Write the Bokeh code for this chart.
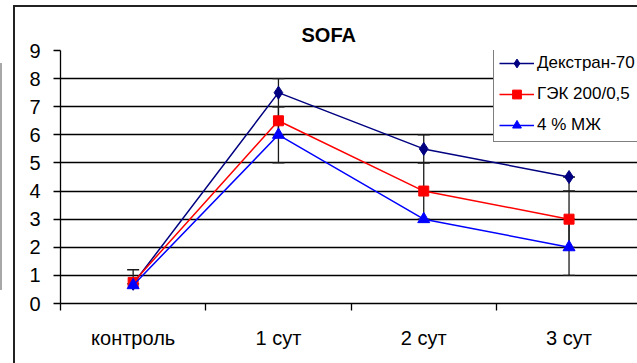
from bokeh.plotting import figure
from bokeh.models import (Range1d, FixedTicker, Whisker, ColumnDataSource, Legend, LegendItem, Title, Div)
from bokeh.layouts import row
from bokeh.embed import file_html
from bokeh.resources import INLINE

categories = ["контроль", "1 сут", "2 сут", "3 сут"]
series_names = ["Декстран-70", "ГЭК 200/0,5", "4 % МЖ"]
dextran = [0.7, 7.5, 5.5, 4.5]
gek = [0.75, 6.5, 4.0, 3.0]
mzh = [0.65, 6.0, 3.0, 2.0]
# error bar extents (lower, upper)
dextran_lo = [0.0, 0.5, 0.5, 0.5]
dextran_hi = [0.5, 0.5, 0.5, 0.0]
gek_lo = [0.0, 0.5, 1.0, 1.0]
gek_hi = [0.0, 0.5, 1.0, 1.0]
mzh_lo = [0.0, 1.0, 0.0, 1.0]
mzh_hi = [0.0, 1.0, 0.0, 1.0]
y_ticks = [0, 1, 2, 3, 4, 5, 6, 7, 8, 9]

colors = ["#000080", "#FF0000", "#0000FF"]
markers = ["diamond", "square", "triangle"]
msizes = [13, 10, 12]

FONT = "Liberation Sans"

p = figure(width=624, height=358, output_backend="svg", toolbar_location=None,
           x_range=Range1d(0, 3.985), y_range=Range1d(0, 9),
           min_border_left=45, min_border_right=0, min_border_top=43, min_border_bottom=62,
           background_fill_color="white", border_fill_color="white",
           outline_line_color=None)
p.margin = (5, 0, 0, 11)
p.styles = {"border-top": "2px solid #222", "border-left": "2px solid #222", "box-sizing": "border-box"}

p.title = Title(text="SOFA", align="left", text_font=FONT, text_font_size="20px",
                text_font_style="bold", text_color="black", offset=241, standoff=10)

xs = [i + 0.5 for i in range(len(categories))]

# axes
p.xaxis.ticker = FixedTicker(ticks=xs, minor_ticks=[0, 1, 2, 3])
p.xaxis.major_label_overrides = {x: c for x, c in zip(xs, categories)}
p.xaxis.major_tick_line_color = None
p.xaxis.minor_tick_in = 0
p.xaxis.minor_tick_out = 7
p.xaxis.minor_tick_line_color = "black"
p.xaxis.minor_tick_line_width = 1.3
p.xaxis.major_label_standoff = 16
p.xaxis.major_label_text_font = FONT
p.xaxis.major_label_text_font_size = "20px"
p.xaxis.major_label_text_color = "black"
p.xaxis.axis_line_color = "black"
p.xaxis.axis_line_width = 1.3

p.yaxis.ticker = FixedTicker(ticks=y_ticks, minor_ticks=[])
p.yaxis.major_tick_in = 0
p.yaxis.major_tick_out = 7
p.yaxis.major_tick_line_color = "black"
p.yaxis.major_tick_line_width = 1.3
p.yaxis.major_label_standoff = 13
p.yaxis.major_label_text_font = FONT
p.yaxis.major_label_text_font_size = "20px"
p.yaxis.major_label_text_color = "black"
p.yaxis.axis_line_color = "black"
p.yaxis.axis_line_width = 1.3

p.xgrid.grid_line_color = None
p.ygrid.grid_line_color = "black"
p.ygrid.grid_line_width = 1.3

# error bars
for vals, lo, hi in [(dextran, dextran_lo, dextran_hi), (gek, gek_lo, gek_hi), (mzh, mzh_lo, mzh_hi)]:
    lower = [v - l for v, l in zip(vals, lo)]
    upper = [v + h for v, h in zip(vals, hi)]
    keep = [i for i in range(len(vals)) if lo[i] > 0 or hi[i] > 0]
    src = ColumnDataSource(dict(x=[xs[i] for i in keep], lower=[lower[i] for i in keep],
                                upper=[upper[i] for i in keep]))
    w = Whisker(source=src, base="x", lower="lower", upper="upper", dimension="height",
                line_color="#1a1a1a", line_width=1.3)
    w.upper_head.size = 12
    w.lower_head.size = 12
    w.upper_head.line_color = "#1a1a1a"
    w.lower_head.line_color = "#1a1a1a"
    w.upper_head.line_width = 1.3
    w.lower_head.line_width = 1.3
    p.add_layout(w)

items = []
for name, vals, c, m, s in zip(series_names, [dextran, gek, mzh], colors, markers, msizes):
    r1 = p.line(xs, vals, line_color=c, line_width=1.5)
    r2 = p.scatter(xs, vals, marker=m, size=s, fill_color=c, line_color=c)
    items.append(LegendItem(label=name, renderers=[r1, r2]))

legend = Legend(items=items, location=(433, 161), label_text_font=FONT,
                label_text_font_size="17px", label_text_color="black",
                glyph_width=35, glyph_height=22, label_height=22, label_standoff=3,
                spacing=9, padding=5, margin=0,
                border_line_color="black", border_line_width=1.3,
                background_fill_color="white", background_fill_alpha=1.0)
p.add_layout(legend, "center")

edge = Div(text="", width=2, height=227, margin=(63, 0, 0, 0),
           styles={"background-color": "#a8a8a8"})

layout = row(edge, p, spacing=0)
layout.margin = 0

open("out.html", "w").write(file_html(layout, INLINE))
